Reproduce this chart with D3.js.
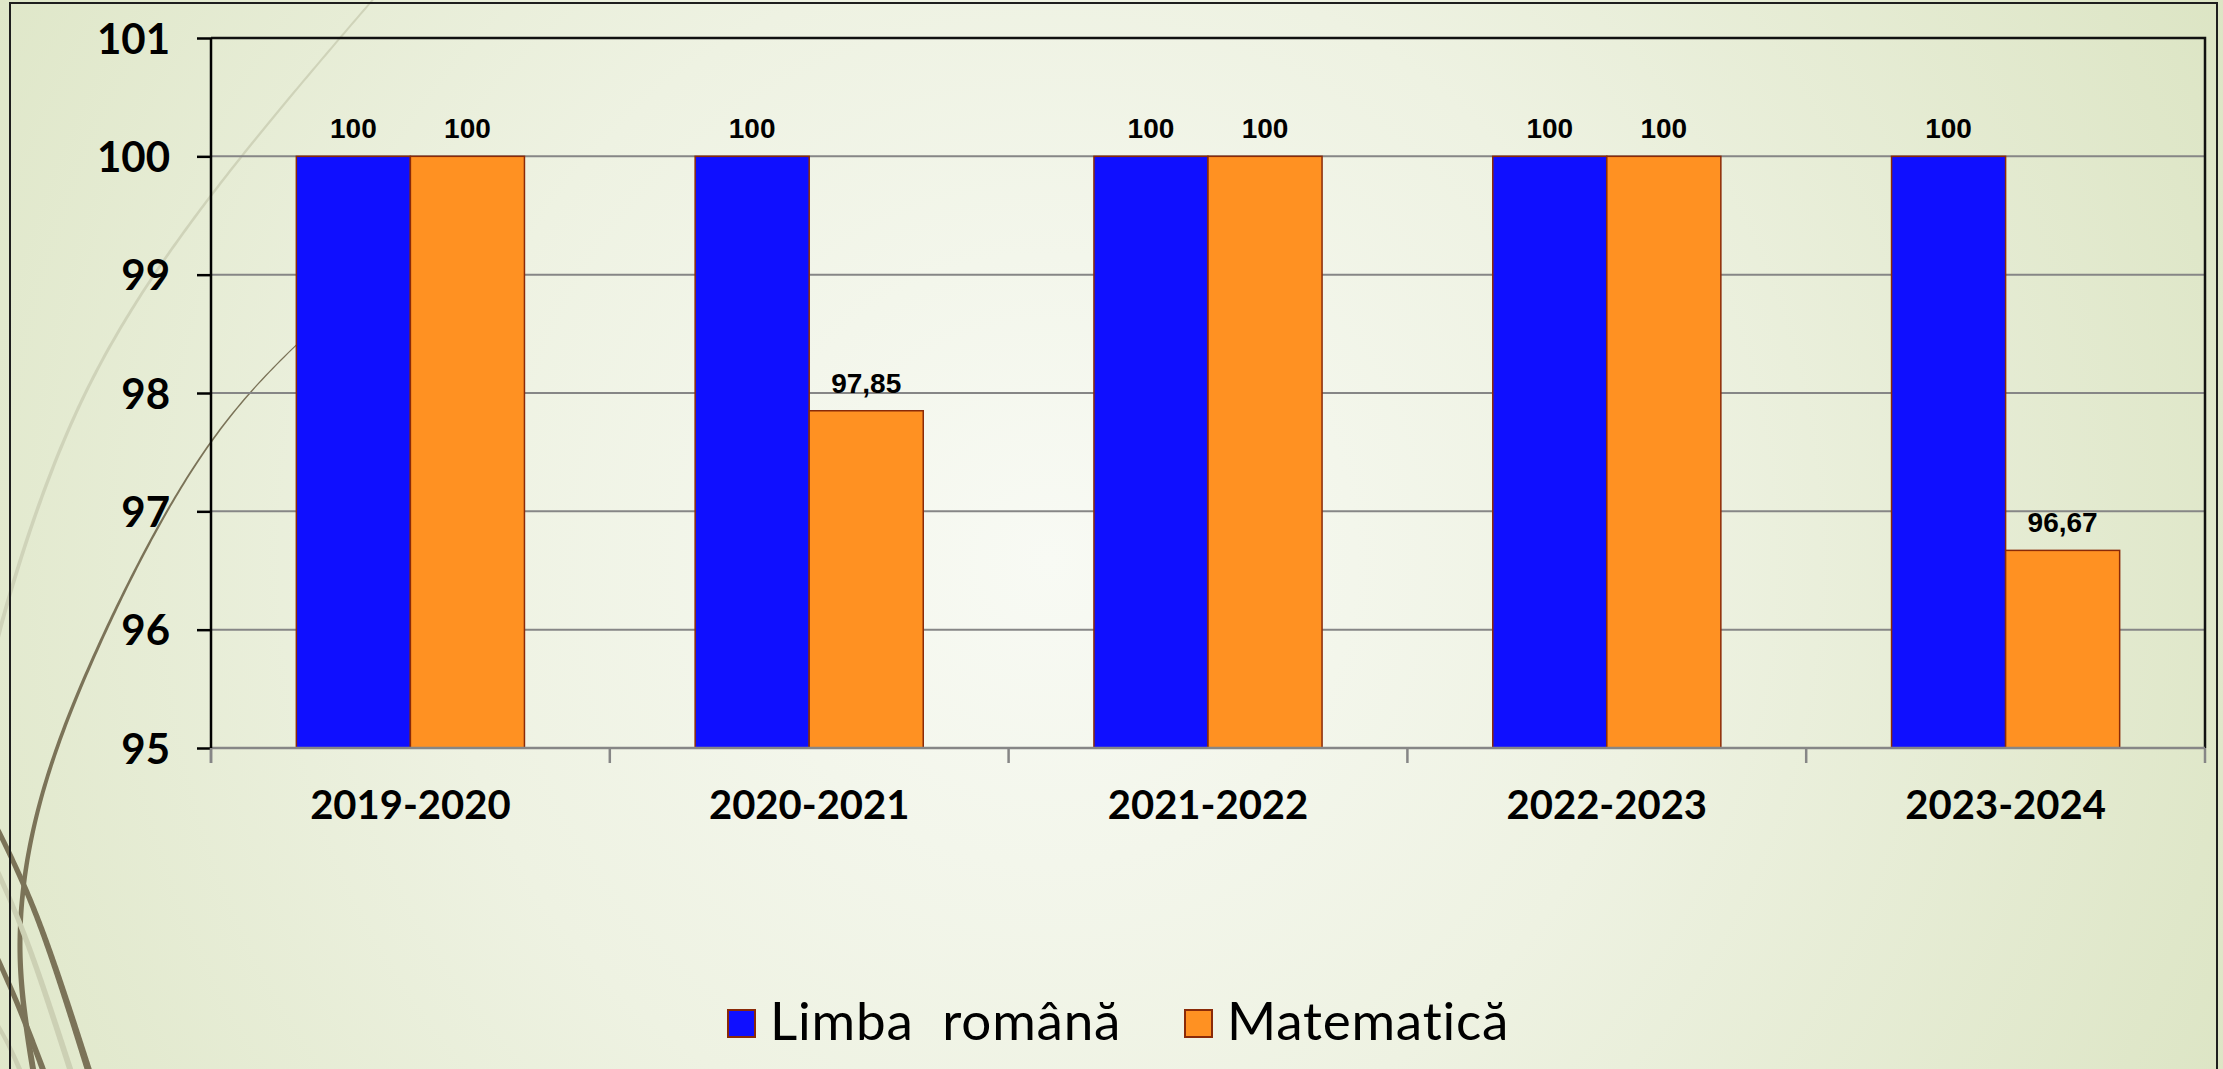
<!DOCTYPE html>
<html>
<head>
<meta charset="utf-8">
<script src="https://cdn.jsdelivr.net/npm/d3@7"></script>
<style>
  html, body { margin: 0; padding: 0; overflow: hidden; }
  svg { display: block; }
</style>
</head>
<body>
<script>
// Promovabilitate (%) pe ani școlari
const categories = ["2019-2020", "2020-2021", "2021-2022", "2022-2023", "2023-2024"];
const series = ["Limba  română", "Matematică"];
const limbaRomana = [100, 100, 100, 100, 100];
const matematica = [100, 97.85, 100, 100, 96.67];
const yTicks = [95, 96, 97, 98, 99, 100, 101];
const seriesColors = ["#0F0FFF", "#FF9122"];

const W = 2223, H = 1069;
const plot = { left: 211, right: 2205, top: 38, bottom: 748 };

const svg = d3.select("body").append("svg")
  .attr("width", W).attr("height", H);

// slide background
const defs = svg.append("defs");
const bg = defs.append("radialGradient").attr("id", "bg")
  .attr("gradientUnits", "userSpaceOnUse")
  .attr("cx", 1050).attr("cy", 560).attr("r", 1350);
bg.append("stop").attr("offset", "0%").attr("stop-color", "#f8faf4");
bg.append("stop").attr("offset", "45%").attr("stop-color", "#eef2e2");
bg.append("stop").attr("offset", "100%").attr("stop-color", "#dbe4c2");
svg.append("rect").attr("width", W).attr("height", H).attr("fill", "url(#bg)");

// decorative swooshes on the left
const deco = svg.append("g");
function taperedStroke(pts, w0, w1, color) {
  const tmp = deco.append("path")
    .attr("d", d3.line().curve(d3.curveNatural)(pts))
    .attr("fill", "none");
  const node = tmp.node();
  const len = node.getTotalLength();
  const n = 160, left = [], right = [];
  for (let i = 0; i <= n; i++) {
    const t = i / n;
    const p = node.getPointAtLength(t * len);
    const q = node.getPointAtLength(Math.min(len, t * len + 2));
    const r = node.getPointAtLength(Math.max(0, t * len - 2));
    let dx = q.x - r.x, dy = q.y - r.y;
    const m = Math.hypot(dx, dy) || 1;
    dx /= m; dy /= m;
    const w = (w0 + (w1 - w0) * Math.pow(t, 1.3)) / 2;
    left.push([p.x - dy * w, p.y + dx * w]);
    right.push([p.x + dy * w, p.y - dx * w]);
  }
  tmp.remove();
  deco.append("path")
    .attr("d", d3.line()(left.concat(right.reverse())) + "Z")
    .attr("fill", color);
}
taperedStroke([[376, -4], [213, 193], [83, 398], [10, 594], [-6, 660]], 2, 4, "#cfd3b9");
taperedStroke([[340, 305], [211, 442], [100, 643], [38, 810], [20, 950], [34, 1075]], 1, 6, "#7b7358");
taperedStroke([[-4, 868], [30, 950], [72, 1075]], 5, 6, "#ccd0b4");
taperedStroke([[-4, 826], [40, 925], [90, 1075]], 5, 7, "#7b7358");
taperedStroke([[-4, 955], [20, 1010], [45, 1075]], 5, 6, "#7b7358");
taperedStroke([[-4, 1022], [10, 1048], [22, 1075]], 4, 5, "#ccd0b4");

// outer chart frame
svg.append("path")
  .attr("d", `M10,${H + 2}V3H2217V${H + 2}`)
  .attr("fill", "none").attr("stroke", "#1e1e1e").attr("stroke-width", 2);

// scales
const x0 = d3.scaleBand().domain(categories).range([plot.left, plot.right]).padding(0);
const gap = x0.bandwidth() * 0.214;
const x1 = d3.scaleBand().domain(series).range([gap, x0.bandwidth() - gap]).padding(0);
const y = d3.scaleLinear().domain([95, 101]).range([plot.bottom, plot.top]);

// horizontal gridlines
svg.append("g").selectAll("line")
  .data(yTicks.filter(v => v > 95 && v < 101))
  .join("line")
  .attr("x1", plot.left).attr("x2", plot.right)
  .attr("y1", d => y(d)).attr("y2", d => y(d))
  .attr("stroke", "#868686").attr("stroke-width", 2);

// plot frame (top and right)
svg.append("path")
  .attr("d", `M${plot.left},${plot.top}H${plot.right}V${plot.bottom}`)
  .attr("fill", "none").attr("stroke", "#111").attr("stroke-width", 2.5);

// bars
const rows = categories.map((c, i) => ({ cat: c, vals: [limbaRomana[i], matematica[i]] }));
const groups = svg.append("g").selectAll("g")
  .data(rows).join("g")
  .attr("transform", d => `translate(${x0(d.cat)},0)`);

groups.selectAll("rect")
  .data(d => d.vals.map((v, k) => ({ s: series[k], v, k })))
  .join("rect")
  .attr("x", d => x1(d.s))
  .attr("width", x1.bandwidth())
  .attr("y", d => y(d.v))
  .attr("height", d => y(95) - y(d.v))
  .attr("fill", d => seriesColors[d.k])
  .attr("stroke", "#8a2a08").attr("stroke-width", 1.5);

// value labels
const fmt = v => (Number.isInteger(v) ? String(v) : v.toFixed(2).replace(".", ","));
groups.selectAll("text")
  .data(d => d.vals.map((v, k) => ({ s: series[k], v, k })))
  .join("text")
  .attr("x", d => x1(d.s) + x1.bandwidth() / 2)
  .attr("y", d => y(d.v) - 18)
  .attr("text-anchor", "middle")
  .attr("font-family", "'Liberation Sans', Arial, sans-serif")
  .attr("font-weight", "bold").attr("font-size", 28)
  .attr("fill", "#000")
  .text(d => fmt(d.v));

// bottom axis line and category boundary ticks
const bounds = categories.map(c => x0(c)).concat([plot.right]);
svg.append("line")
  .attr("x1", plot.left).attr("x2", plot.right)
  .attr("y1", plot.bottom).attr("y2", plot.bottom)
  .attr("stroke", "#868686").attr("stroke-width", 2.5);
svg.append("g").selectAll("line")
  .data(bounds).join("line")
  .attr("x1", d => d).attr("x2", d => d)
  .attr("y1", plot.bottom).attr("y2", plot.bottom + 15)
  .attr("stroke", "#868686").attr("stroke-width", 2.5);

// category labels
const xAxis = svg.append("g")
  .attr("transform", `translate(0,${plot.bottom})`)
  .call(d3.axisBottom(x0).tickSize(0).tickPadding(0));
xAxis.select(".domain").remove();
xAxis.selectAll("text")
  .attr("y", 71).attr("dy", 0)
  .attr("font-family", "Lato, 'Noto Sans', sans-serif")
  .attr("font-weight", "bold").attr("font-size", 40)
  .attr("fill", "#000");

// value axis
const yAxis = svg.append("g")
  .attr("transform", `translate(${plot.left},0)`)
  .call(d3.axisLeft(y).tickValues(yTicks).tickSize(14).tickPadding(27).tickFormat(d3.format("d")));
yAxis.select(".domain")
  .attr("d", `M0,${plot.top}V${plot.bottom}`)
  .attr("stroke", "#000").attr("stroke-width", 2.5);
yAxis.selectAll(".tick line").attr("stroke", "#000").attr("stroke-width", 2.5);
yAxis.selectAll("text")
  .attr("dy", "0.36em")
  .attr("font-family", "Lato, 'Noto Sans', sans-serif")
  .attr("font-weight", "bold").attr("font-size", 42)
  .attr("fill", "#000");
yAxis.append("line")
  .attr("x1", 0).attr("x2", 0).attr("y1", plot.bottom).attr("y2", plot.bottom + 15)
  .attr("stroke", "#868686").attr("stroke-width", 2.5);

// legend
const legendItems = [
  { label: series[0], color: seriesColors[0], x: 728 },
  { label: series[1], color: seriesColors[1], x: 1185 }
];
const lg = svg.append("g").selectAll("g")
  .data(legendItems).join("g")
  .attr("transform", d => `translate(${d.x},1010)`);
lg.append("rect")
  .attr("width", 27).attr("height", 27)
  .attr("fill", d => d.color)
  .attr("stroke", "#8a2a08").attr("stroke-width", 2);
lg.append("text")
  .attr("x", 42).attr("y", 30)
  .attr("font-family", "Lato, 'Noto Sans', sans-serif")
  .attr("font-size", 53)
  .attr("letter-spacing", 0.8)
  .attr("fill", "#000")
  .attr("xml:space", "preserve")
  .style("white-space", "pre")
  .text(d => d.label);
</script>
</body>
</html>
